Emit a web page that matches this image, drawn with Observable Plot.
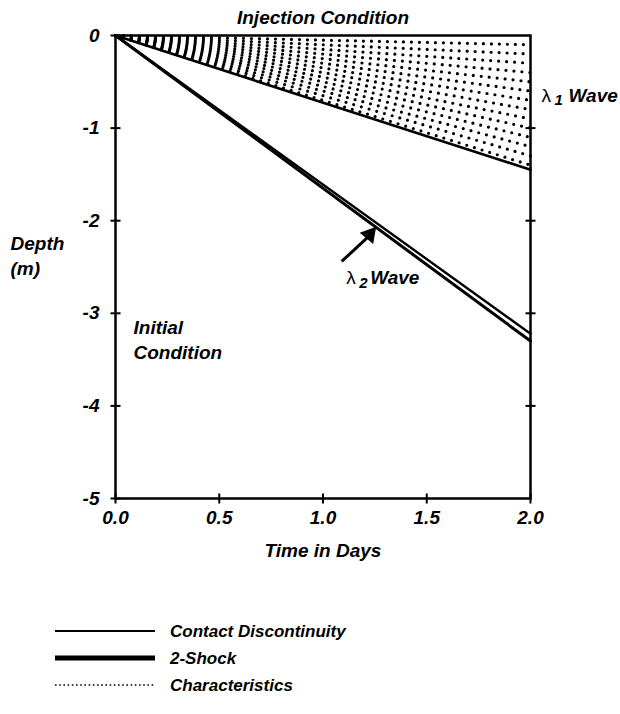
<!DOCTYPE html>
<html><head><meta charset="utf-8">
<script src="https://cdn.jsdelivr.net/npm/d3@7"></script>
<script src="https://cdn.jsdelivr.net/npm/@observablehq/plot@0.6"></script>
<style>
body{margin:0;background:#fff;}
#legend{position:relative;height:139px;}
</style>
</head><body><div id="chart"></div><div id="legend"></div><script>
const xTicks = [0, 0.5, 1, 1.5, 2];
const yTicks = [0, -1, -2, -3, -4, -5];
const rightTicks = [-1, -2, -3, -4];
const charDepthsAtDay2 = [-0.1, -0.2, -0.3, -0.4, -0.5, -0.6, -0.7, -0.8, -0.9, -1.0, -1.1, -1.2, -1.3, -1.4];
const lineTime = [0, 2];
const contact1Depth = [0, -1.45];
const contact2Depth = [0, -3.22];
const shockDepth = [0, -3.3];
const legendLabels = ["Contact Discontinuity", "2-Shock", "Characteristics"];

const FONT = "'Liberation Sans', Arial, Helvetica, sans-serif";
const pts = (ys) => lineTime.map((t, i) => ({t, d: ys[i]}));
const rays = charDepthsAtDay2.flatMap((d, k) => lineTime.map((t, i) => ({t, d: i === 0 ? 0 : d, k})));

const hline = {draw(ctx, size) { const r = Math.sqrt(size / Math.PI); ctx.moveTo(-r, 0); ctx.lineTo(r, 0); }};
const vline = {draw(ctx, size) { const r = Math.sqrt(size / Math.PI); ctx.moveTo(0, -r); ctx.lineTo(0, r); }};

const txt = {fontFamily: FONT, fontWeight: "bold", fontStyle: "italic", fontSize: 19, fill: "black"};

const chart = Plot.plot({
  width: 620, height: 575,
  marginLeft: 115, marginRight: 90, marginTop: 35, marginBottom: 77,
  x: {domain: [0, 2]},
  y: {domain: [-5, 0]},
  style: {fontFamily: FONT, fontWeight: "bold", fontStyle: "italic", fontSize: "19px", color: "black", background: "white"},
  marks: [
    Plot.line(rays, {x: "t", y: "d", z: "k", stroke: "black", strokeWidth: 3.2, strokeDasharray: "0,8", strokeLinecap: "round"}),
    Plot.line(pts(contact1Depth), {x: "t", y: "d", stroke: "black", strokeWidth: 2.6}),
    Plot.line(pts(contact2Depth), {x: "t", y: "d", stroke: "black", strokeWidth: 2.4}),
    Plot.line(pts(shockDepth), {x: "t", y: "d", stroke: "black", strokeWidth: 3}),
    Plot.frame({stroke: "black", strokeWidth: 2.5}),
    Plot.dot(yTicks, {x: 0, y: d => d, symbol: hline, r: 5, stroke: "black", strokeWidth: 2, fill: "none"}),
    Plot.dot(rightTicks, {x: 2, y: d => d, symbol: hline, r: 5, stroke: "black", strokeWidth: 2, fill: "none"}),
    Plot.dot(xTicks, {x: d => d, y: -5, symbol: vline, r: 5, stroke: "black", strokeWidth: 2, fill: "none"}),
    Plot.axisY(yTicks, {anchor: "left", tickSize: 0, tickPadding: 16, tickFormat: d => String(d), label: null, ...txt}),
    Plot.axisX(xTicks, {anchor: "bottom", tickSize: 0, tickPadding: 12, tickFormat: d3.format(".1f"), label: null, ...txt}),
    Plot.text(["Time in Days"], {x: 1, y: -5, dy: 52, ...txt}),
    Plot.text(["Injection Condition"], {x: 1, y: 0, dy: -18, ...txt}),
    Plot.text(["Depth"], {x: 0, y: -2.25, dx: -105, textAnchor: "start", ...txt}),
    Plot.text(["(m)"], {x: 0, y: -2.52, dx: -105, textAnchor: "start", ...txt}),
    Plot.text(["Initial"], {x: 0, y: -3.16, dx: 18, textAnchor: "start", ...txt}),
    Plot.text(["Condition"], {x: 0, y: -3.43, dx: 18, textAnchor: "start", ...txt}),
    Plot.text(["λ"], {x: 2, y: -0.65, dx: 11, textAnchor: "start", ...txt, fontWeight: "normal", fontStyle: "normal"}),
    Plot.text(["1"], {x: 2, y: -0.65, dx: 24, dy: 4, textAnchor: "start", ...txt, fontSize: 15}),
    Plot.text(["Wave"], {x: 2, y: -0.65, dx: 38, textAnchor: "start", ...txt}),
    Plot.link([{x1: 1.09, y1: -2.44, x2: 1.215, y2: -2.18}], {x1: "x1", y1: "y1", x2: "x2", y2: "y2", stroke: "black", strokeWidth: 3}),
    Plot.dot([{x: 1.225, y: -2.15}], {x: "x", y: "y", symbol: "triangle", r: 6.5, rotate: 40, fill: "black", stroke: "none"}),
    Plot.text(["λ"], {x: 1.15, y: -2.62, dx: -8, textAnchor: "start", ...txt, fontWeight: "normal", fontStyle: "normal"}),
    Plot.text(["2"], {x: 1.15, y: -2.62, dx: 5, dy: 5, textAnchor: "start", ...txt, fontSize: 15}),
    Plot.text(["Wave"], {x: 1.15, y: -2.62, dx: 16, textAnchor: "start", ...txt})
  ]
});
document.getElementById("chart").append(chart);

// legend below the chart
const lg = d3.select("#legend").append("svg").attr("width", 620).attr("height", 139)
  .style("display", "block");
const rowsY = [56, 83, 110];
const styles = [{w: 2, dash: null}, {w: 5, dash: null}, {w: 1.6, dash: "1.6,2.6"}];
legendLabels.forEach((label, i) => {
  const s = styles[i];
  const l = lg.append("line").attr("x1", 55).attr("x2", 155).attr("y1", rowsY[i]).attr("y2", rowsY[i])
    .attr("stroke", "black").attr("stroke-width", s.w);
  if (s.dash) l.attr("stroke-dasharray", s.dash);
  lg.append("text").attr("x", 170).attr("y", rowsY[i]).attr("dy", "0.35em")
    .attr("font-family", FONT).attr("font-weight", "bold").attr("font-style", "italic")
    .attr("font-size", 17).text(label);
});
</script></body></html>
